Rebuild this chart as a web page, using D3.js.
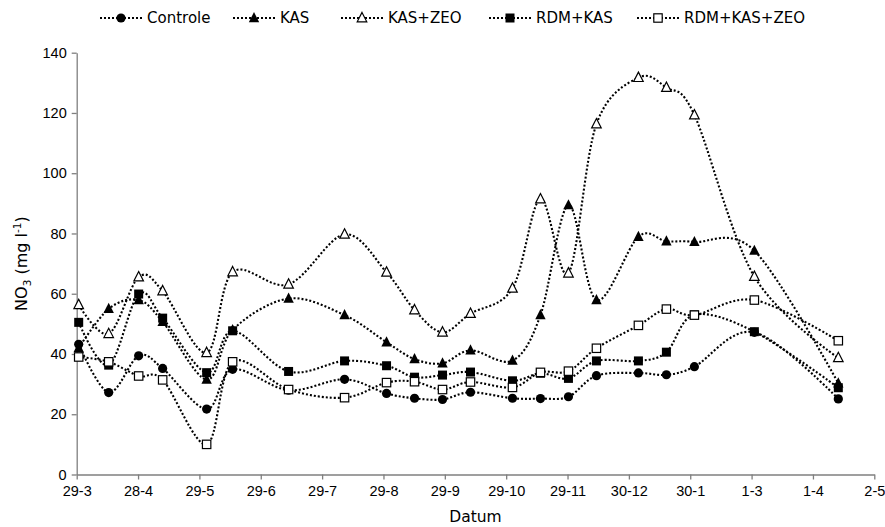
<!DOCTYPE html>
<html>
<head>
<meta charset="utf-8">
<script src="https://cdn.jsdelivr.net/npm/d3@7"></script>
<style>
  html, body { margin: 0; padding: 0; background: #fff; }
  svg { display: block; font-family: "DejaVu Sans", Verdana, sans-serif; }
</style>
</head>
<body>
<svg id="chart" width="885" height="527"></svg>
<script>
// ---- data ----
const sampleDates = ["2009-03-30","2009-04-14","2009-04-29","2009-05-11","2009-06-02","2009-06-15",
  "2009-07-13","2009-08-10","2009-08-31","2009-09-14","2009-09-28","2009-10-12","2009-11-02",
  "2009-11-16","2009-11-30","2009-12-14","2010-01-04","2010-01-18","2010-02-01","2010-03-03","2010-04-14"];
const controle   = [43.2, 27.2, 39.4, 35.2, 21.7, 34.9, 28.0, 31.6, 26.9, 25.3, 24.9, 27.3, 25.3, 25.2, 25.8, 32.8, 33.7, 33.1, 35.8, 47.2, 25.1];
const kas        = [42.0, 55.0, 57.9, 50.7, 31.5, 48.0, 58.4, 52.9, 43.9, 38.3, 36.9, 41.2, 37.8, 52.9, 89.4, 57.9, 78.9, 77.4, 77.2, 74.3, 30.3];
const kasZeo     = [56.3, 46.7, 65.5, 60.9, 40.4, 67.2, 63.1, 79.7, 67.1, 54.6, 47.2, 53.4, 61.8, 91.4, 66.8, 116.3, 131.7, 128.4, 119.3, 65.7, 38.7];
const rdmKas     = [50.5, 36.3, 59.9, 51.9, 33.8, 47.7, 34.2, 37.7, 36.1, 32.3, 33.0, 34.0, 31.1, 33.6, 31.9, 37.7, 37.7, 40.6, 53.0, 47.4, 28.8];
const rdmKasZeo  = [39.0, 37.4, 32.7, 31.4, 10.0, 37.4, 28.2, 25.5, 30.5, 30.8, 28.2, 30.7, 28.9, 33.9, 34.3, 41.9, 49.5, 54.9, 52.9, 57.9, 44.4];
const seriesNames = ["Controle", "KAS", "KAS+ZEO", "RDM+KAS", "RDM+KAS+ZEO"];
const xTickLabels = ["29-3","28-4","29-5","29-6","29-7","29-8","29-9","29-10","29-11","30-12","30-1","1-3","1-4","2-5"];
const xDomain = ["2009-03-29", "2010-05-02"];
const yTicks = [0, 20, 40, 60, 80, 100, 120, 140];

// ---- layout / styles ----
const W = 885, H = 527;
const margin = { left: 76.7, right: 10.7, top: 52.7, bottom: 52.5 };
const markerTypes = ["circle", "triangle", "triangleOpen", "square", "squareOpen"];
const seriesValues = [controle, kas, kasZeo, rdmKas, rdmKasZeo];
const legendTextX = [147, 280, 388, 536, 684];

const parse = d3.utcParse("%Y-%m-%d");
const svg = d3.select("#chart");

const x = d3.scaleUtc()
  .domain(xDomain.map(parse))
  .range([margin.left, W - margin.right]);
const y = d3.scaleLinear().domain([0, 140]).range([H - margin.bottom, margin.top]);

const t0 = x.domain()[0].getTime(), t1 = x.domain()[1].getTime();
const xTickVals = xTickLabels.map((_, i) => new Date(t0 + i * (t1 - t0) / (xTickLabels.length - 1)));

const axisColor = "#7f7f7f";

// x axis
const gx = svg.append("g")
  .attr("transform", `translate(0,${y(0)})`)
  .call(d3.axisBottom(x).tickValues(xTickVals).tickFormat((d, i) => xTickLabels[i]).tickSize(5).tickSizeOuter(0));
gx.select(".domain").attr("stroke", axisColor).attr("stroke-width", 1.3);
gx.selectAll(".tick line").attr("stroke", axisColor).attr("stroke-width", 1.3);
gx.selectAll(".tick text").attr("font-size", 14.5).attr("fill", "#000").attr("dy", "0.85em").attr("y", 9);

// y axis
const gy = svg.append("g")
  .attr("transform", `translate(${margin.left},0)`)
  .call(d3.axisLeft(y).tickValues(yTicks).tickSize(5).tickSizeOuter(0));
gy.select(".domain").attr("stroke", axisColor).attr("stroke-width", 1.3);
gy.selectAll(".tick line").attr("stroke", axisColor).attr("stroke-width", 1.3);
gy.selectAll(".tick text").attr("font-size", 14.5).attr("fill", "#000").attr("x", -10);

// axis titles
svg.append("text")
  .attr("x", (margin.left + W - margin.right) / 2).attr("y", 522)
  .attr("text-anchor", "middle").attr("font-size", 15.5).text("Datum");

const yt = svg.append("text")
  .attr("transform", `translate(27,${(margin.top + H - margin.bottom) / 2}) rotate(-90)`)
  .attr("text-anchor", "middle").attr("font-size", 16);
yt.append("tspan").text("NO");
yt.append("tspan").attr("font-size", 10.5).attr("dy", 4).text("3");
yt.append("tspan").attr("dy", -4).text(" (mg l");
yt.append("tspan").attr("font-size", 10.5).attr("dy", -6).text("-1");
yt.append("tspan").attr("dy", 6).text(")");

// markers
function drawMarker(g, type, cx, cy) {
  if (type === "circle") {
    g.append("circle").attr("cx", cx).attr("cy", cy).attr("r", 4.6).attr("fill", "#000");
  } else if (type === "square" || type === "squareOpen") {
    const s = type === "square" ? 9 : 8.4;
    g.append("rect").attr("x", cx - s / 2).attr("y", cy - s / 2).attr("width", s).attr("height", s)
      .attr("fill", type === "square" ? "#000" : "#fff")
      .attr("stroke", "#000").attr("stroke-width", type === "square" ? 0 : 1.2);
  } else {
    const open = type === "triangleOpen";
    const hw = open ? 4.8 : 5.2, top = open ? -5.6 : -6, bot = open ? 3.8 : 4.2;
    g.append("path")
      .attr("d", `M${cx},${cy + top}L${cx + hw},${cy + bot}L${cx - hw},${cy + bot}Z`)
      .attr("fill", open ? "#fff" : "#000")
      .attr("stroke", "#000").attr("stroke-width", open ? 1.2 : 0);
  }
}

const line = d3.line()
  .x(d => x(d.date)).y(d => y(d.v))
  .curve(d3.curveCatmullRom.alpha(0));

const dash = "2,2";
seriesValues.forEach((vals, si) => {
  const data = vals.map((v, i) => ({ date: parse(sampleDates[i]), v }));
  const g = svg.append("g");
  g.append("path").datum(data).attr("d", line)
    .attr("fill", "none").attr("stroke", "#000").attr("stroke-width", 2.1)
    .attr("stroke-dasharray", dash);
  data.forEach(d => drawMarker(g, markerTypes[si], x(d.date), y(d.v)));
});

// legend
const lg = svg.append("g");
seriesNames.forEach((name, i) => {
  const tx = legendTextX[i];
  const lx0 = tx - 47, lx1 = tx - 5;
  lg.append("line").attr("x1", lx0).attr("x2", lx1).attr("y1", 18).attr("y2", 18)
    .attr("stroke", "#000").attr("stroke-width", 2).attr("stroke-dasharray", dash);
  drawMarker(lg, markerTypes[i], (lx0 + lx1) / 2, 18);
  lg.append("text").attr("x", tx).attr("y", 18).attr("dy", "0.35em")
    .attr("font-size", 15).text(name);
});
</script>
</body>
</html>
